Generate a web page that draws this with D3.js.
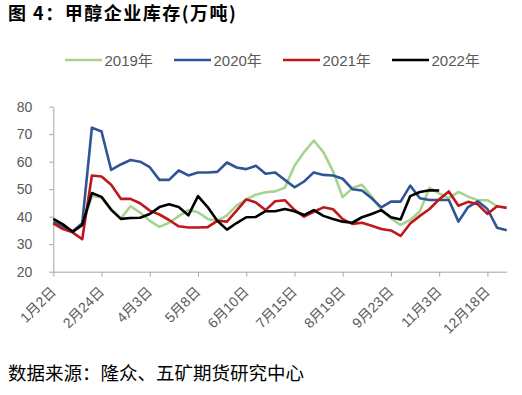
<!DOCTYPE html>
<html>
<head>
<meta charset="utf-8">
<script src="https://cdn.jsdelivr.net/npm/d3@7"></script>
<style>
  body { margin: 0; background: #fff; }
  svg text { font-family: "Liberation Sans", Arial, "Noto Sans CJK SC", sans-serif; }
</style>
</head>
<body>
<div id="chart"></div>
<script>
// DATA
const tickLabels = ['1月2日', '2月24日', '4月3日', '5月8日', '6月10日', '7月15日', '8月19日', '9月23日', '11月3日', '12月18日'];
const weekCount = 48;
const yTicks = [20, 30, 40, 50, 60, 70, 80];
const seriesNames = ['2019年', '2020年', '2021年', '2022年'];

const v2019 = [38.8, 36.5, 34.8, 36.8, 47.5, 47, 42.8, 39.4, 43.8, 41.5, 38.5, 36.3, 37.8, 40.2, 42.4, 41.6,
  39.2, 38.5, 40.5, 44, 46.2, 48, 48.9, 49.2, 50.5, 58.5, 63.5, 67.7, 63.5, 56.5, 47.1, 50.4,
  51.6, 47.3, 42.4, 39.4, 37, 38.8, 42, 50.5, 48.5, 46.7, 49, 47.3, 46, 46, 43.8];
const v2020 = [38, 36.3, 34.6, 37.6, 72.4, 71, 57, 59, 60.6, 60, 58, 53.4, 53.4, 56.8, 55, 56.1,
  56.1, 56.3, 59.7, 57.9, 57.3, 58.5, 55.6, 56.1, 53.4, 50.7, 52.8, 56.1, 55.2, 55, 53.8, 50,
  49.5, 46.7, 43.4, 45.5, 45.5, 51.3, 46.7, 46.1, 46.1, 46.1, 38.2, 43.5, 45.6, 42.8, 36, 35.1];
const v2021 = [37.6, 35.5, 34.3, 31.8, 55, 54.6, 51.6, 46.5, 46.5, 44.9, 42.2, 40.8, 38.8, 36.5, 36.1, 36.1,
  36.2, 38.5, 38.2, 42.2, 46.3, 45.2, 42.4, 45.6, 46, 42.5, 40, 41.8, 43.4, 42.7, 39.1, 37.4,
  37.8, 36.7, 35.5, 35, 33, 37.5, 40.3, 42.8, 46.3, 49.2, 44, 45.4, 44.5, 41, 43.8, 43.2];
const v2022 = [39.2, 37.2, 34.5, 37, 48.6, 47.2, 42.5, 39.2, 39.5, 39.6, 41, 43.5, 44.5, 43.5, 40.5, 47.5,
  43.5, 38.5, 35.3, 37.7, 39.8, 39.9, 42, 42, 42.8, 42, 40.6, 42.4, 40.3, 39.2, 38.2, 37.8,
  39.8, 41, 42.4, 39.8, 39, 47.5, 49, 49.6, 49.5];

const seriesValues = [v2019, v2020, v2021, v2022];
const colors = ['#a6d48e', '#2f5597', '#c0161e', '#000000'];

const width = 522, height = 395;
const plot = { left: 53.3, right: 506.7, top: 106.7, bottom: 271.7 };

const svg = d3.select('#chart')
  .append('svg')
    .attr('width', width)
    .attr('height', height);

// TITLE & SOURCE
svg.append('text')
  .attr('x', 8)
  .attr('y', 20)
  .attr('font-size', 18)
  .attr('font-weight', 'bold')
  .attr('letter-spacing', 1.5)
  .style('font-family', '"Noto Sans CJK SC", sans-serif')
  .attr('fill', '#000')
  .text('图 4：甲醇企业库存(万吨)');

svg.append('text')
  .attr('x', 8)
  .attr('y', 380)
  .attr('font-size', 18.5)
  .style('font-family', '"Noto Sans CJK SC", sans-serif')
  .attr('fill', '#000')
  .text('数据来源：隆众、五矿期货研究中心');

// SCALES
const xScale = d3.scaleLinear()
  .domain([0, weekCount - 1])
  .range([plot.left, plot.right]);

const yScale = d3.scaleLinear()
  .domain([20, 80])
  .range([plot.bottom, plot.top]);

// AXES
const xAxisCall = d3.axisBottom(xScale)
  .tickValues(tickLabels.map((d, i) => i * 5))
  .tickSize(5)
  .tickSizeOuter(0)
  .tickFormat(d => tickLabels[d / 5]);

const xAxisGroup = svg.append('g')
  .attr('transform', 'translate(0,' + plot.bottom + ')')
  .call(xAxisCall);
xAxisGroup.select('.domain').attr('stroke', '#a6a6a6');
xAxisGroup.selectAll('line').attr('stroke', '#a6a6a6');
xAxisGroup.selectAll('text')
  .attr('fill', '#595959')
  .attr('font-size', 14)
  .attr('text-anchor', 'end')
  .attr('dy', 0)
  .attr('y', 0)
  .attr('transform', 'translate(3,21) rotate(-45)');

const yAxisCall = d3.axisLeft(yScale)
  .tickValues(yTicks)
  .tickSize(4)
  .tickSizeOuter(0)
  .tickPadding(17);

const yAxisGroup = svg.append('g')
  .attr('transform', 'translate(' + plot.left + ',0)')
  .call(yAxisCall);
yAxisGroup.select('.domain').attr('stroke', '#a6a6a6');
yAxisGroup.selectAll('line').attr('stroke', '#a6a6a6');
yAxisGroup.selectAll('text')
  .attr('fill', '#595959')
  .attr('font-size', 14);

// LINES
const line = d3.line()
  .x((d, i) => xScale(i))
  .y(d => yScale(d));

seriesValues.forEach((vals, k) => {
  svg.append('path')
    .datum(vals)
    .attr('fill', 'none')
    .attr('stroke', colors[k])
    .attr('stroke-width', 2.6)
    .attr('stroke-linejoin', 'round')
    .attr('d', line);
});

// LEGEND
const legend = svg.append('g')
  .attr('transform', 'translate(65,60)');

seriesNames.forEach((name, k) => {
  const row = legend.append('g')
    .attr('transform', `translate(${k * 109},0)`);

  row.append('line')
    .attr('x1', 0)
    .attr('x2', 37)
    .attr('stroke', colors[k])
    .attr('stroke-width', 2.6);

  row.append('text')
    .attr('x', 39.5)
    .attr('y', 5.5)
    .attr('fill', '#595959')
    .attr('font-size', 15)
    .text(name);
});
</script>
</body>
</html>
